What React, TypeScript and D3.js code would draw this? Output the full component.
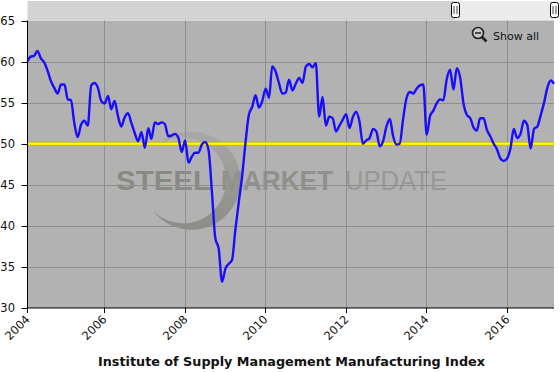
import React from "react";
import * as d3 from "d3";

const W = 560, H = 372;
const title = "Institute of Supply Management Manufacturing Index";
const yTicks = [30, 35, 40, 45, 50, 55, 60, 65];
const xTickYears = [2004, 2006, 2008, 2010, 2012, 2014, 2016];
const threshold = 50;
const pmi = [
  60.0, 60.6, 60.7, 61.3, 60.4, 59.9, 58.9, 57.6, 56.8, 56.1, 57.2, 57.2,
  55.4, 55.3, 52.5, 50.8, 52.3, 52.8, 52.2, 57.1, 57.4, 56.8, 55.2, 54.9,
  55.8, 54.2, 55.2, 53.4, 52.1, 53.2, 53.7, 52.5, 51.3, 50.3, 51.4, 49.5,
  51.9, 50.6, 52.6, 52.4, 52.6, 52.4, 50.9, 51.0, 51.2, 50.7, 49.0, 50.4,
  47.7, 48.4, 48.9, 48.9, 49.9, 50.2, 49.2, 44.0, 38.5, 37.2, 33.2, 34.8,
  35.4, 35.8, 39.5, 42.8, 46.0, 50.0, 53.5, 54.5, 55.9, 54.4, 55.2, 56.7,
  55.6, 59.4, 58.8, 57.4, 56.1, 56.2, 57.8, 56.5, 57.3, 58.0, 57.4, 59.4,
  59.7, 59.3, 59.8, 53.3, 55.7, 52.2, 53.3, 53.1, 51.5, 52.2, 52.9, 53.6,
  51.9, 53.2, 53.9, 52.7, 50.0, 50.4, 50.7, 51.8, 51.5, 49.7, 50.3, 52.1,
  53.0, 51.0, 49.9, 50.0, 53.0, 55.5, 56.3, 56.1, 56.7, 57.1, 57.2, 51.1,
  53.4, 54.0, 54.9, 55.4, 55.3, 57.8, 59.0, 56.6, 59.2, 58.0, 54.9, 53.5,
  53.1, 52.0, 51.6, 53.1, 53.1, 51.7, 50.9, 50.0, 49.3, 48.2, 47.9, 48.2,
  49.5, 51.8, 50.7, 51.2, 52.8, 52.3, 49.4, 51.8, 52.1, 53.5, 55.0, 56.9,
  57.7, 57.3,
];

const left = 27.5, right = 554, top = 20.5, bottom = 308;
const start = new Date(2004, 1, 1);
const dates = pmi.map((_, i) => d3.timeMonth.offset(start, i));
const x = d3.scaleTime().domain([start, dates[dates.length - 1]]).range([left, right]);
const y = d3.scaleLinear().domain([30, 65]).range([bottom, top]);
const tickX = (yr: number) => Math.round(x(yr === 2004 ? start : new Date(yr, 0, 1)) - 0.5) + 0.5;
const linePath = d3.line<number>()
  .x((_, i) => x(dates[i]))
  .y((d) => y(d))
  .curve(d3.curveMonotoneX)(pmi) as string;
const font = "'DejaVu Sans', Verdana, sans-serif";
const wm = "'Liberation Sans', Arial, sans-serif";

function Handle({ cx }: { cx: number }) {
  return (
    <g>
      <rect x={cx - 4} y={2.5} width={8} height={15} rx={2} fill="#fff" stroke="#000" />
      <line x1={cx - 1.5} x2={cx - 1.5} y1={6} y2={14} stroke="#444" />
      <line x1={cx + 1.5} x2={cx + 1.5} y1={6} y2={14} stroke="#444" />
    </g>
  );
}

export default function App() {
  return (
    <svg width={W} height={H} style={{ position: "absolute", left: 0, top: 0, background: "#fff" }}>
      <defs>
        <linearGradient id="moon" x1="0" y1="0" x2="0" y2="1">
          <stop offset="0" stopColor="#a8a8a6" />
          <stop offset="0.5" stopColor="#999996" />
          <stop offset="1" stopColor="#8c8c88" />
        </linearGradient>
      </defs>
      <rect x={left} y={1} width={455 - left} height={19} fill="#d3d3d3" />
      <rect x={455} y={1} width={right - 455 + 1} height={19} fill="#ececec" />
      <rect x={left} y={top} width={right - left} height={bottom - top} fill="#b2b2b2" />

      <path d="M156,147 A49,49 0 1 1 153,211 A43,43 0 1 0 156,147 Z" fill="url(#moon)" />
      <text x={116} y={190} fontFamily={wm} fontWeight={700} fontSize={28} fill="#8a8a85" textLength={95} lengthAdjust="spacingAndGlyphs">STEEL</text>
      <text x={221} y={190} fontFamily={wm} fontWeight={700} fontSize={28} fill="#90908c" textLength={112} lengthAdjust="spacingAndGlyphs">MARKET</text>
      <text x={345} y={190} fontFamily={wm} fontSize={28} fill="#989895" textLength={102} lengthAdjust="spacingAndGlyphs">UPDATE</text>

      {yTicks.filter((t) => t > 30 && t < 65).map((t) => (
        <line key={t} x1={left} x2={right} y1={Math.round(y(t)) + 0.5} y2={Math.round(y(t)) + 0.5} stroke="#8f8f8f" />
      ))}
      {xTickYears.slice(1).map((yr) => (
        <line key={yr} x1={tickX(yr)} x2={tickX(yr)} y1={top} y2={bottom} stroke="#8f8f8f" />
      ))}

      <line x1={left} x2={right} y1={y(threshold)} y2={y(threshold)} stroke="#c9bb10" strokeWidth={4} />
      <line x1={left} x2={right} y1={y(threshold)} y2={y(threshold)} stroke="#ffff00" strokeWidth={2} />
      <path d={linePath} fill="none" stroke="#1a0dff" strokeWidth={2.4} strokeLinejoin="round" />

      <line x1={left} x2={left} y1={top} y2={bottom} stroke="#000" />
      <line x1={left - 0.5} x2={right} y1={bottom} y2={bottom} stroke="#000" />
      {yTicks.map((t) => (
        <g key={t}>
          <line x1={left - 6} x2={left} y1={Math.round(y(t)) + 0.5} y2={Math.round(y(t)) + 0.5} stroke="#000" />
          <text x={15} y={y(t) + 4} textAnchor="end" fontFamily={font} fontSize={11.5} fill="#111">{t}</text>
        </g>
      ))}
      {xTickYears.map((yr) => {
        const tx = tickX(yr);
        return (
          <g key={yr}>
            <line x1={tx} x2={tx} y1={bottom} y2={bottom + 5} stroke="#000" />
            <text transform={`translate(${tx + 3},${bottom + 12}) rotate(-45)`} textAnchor="end" fontFamily={font} fontSize={11.5} fill="#111">{yr}</text>
          </g>
        );
      })}
      <text x={291.5} y={366} textAnchor="middle" fontFamily={font} fontWeight={700} fontSize={12} fill="#111" textLength={387} lengthAdjust="spacingAndGlyphs">{title}</text>

      <Handle cx={455.5} />
      <Handle cx={554.5} />
      <circle cx={478} cy={33} r={5.5} fill="#c8c8c8" stroke="#222" strokeWidth={1.6} />
      <line x1={475} x2={481} y1={33} y2={33} stroke="#222" strokeWidth={1.5} />
      <line x1={482} x2={486.5} y1={37} y2={41.5} stroke="#222" strokeWidth={2.6} />
      <text x={493} y={40} fontFamily={font} fontSize={11} fill="#111">Show all</text>
    </svg>
  );
}
